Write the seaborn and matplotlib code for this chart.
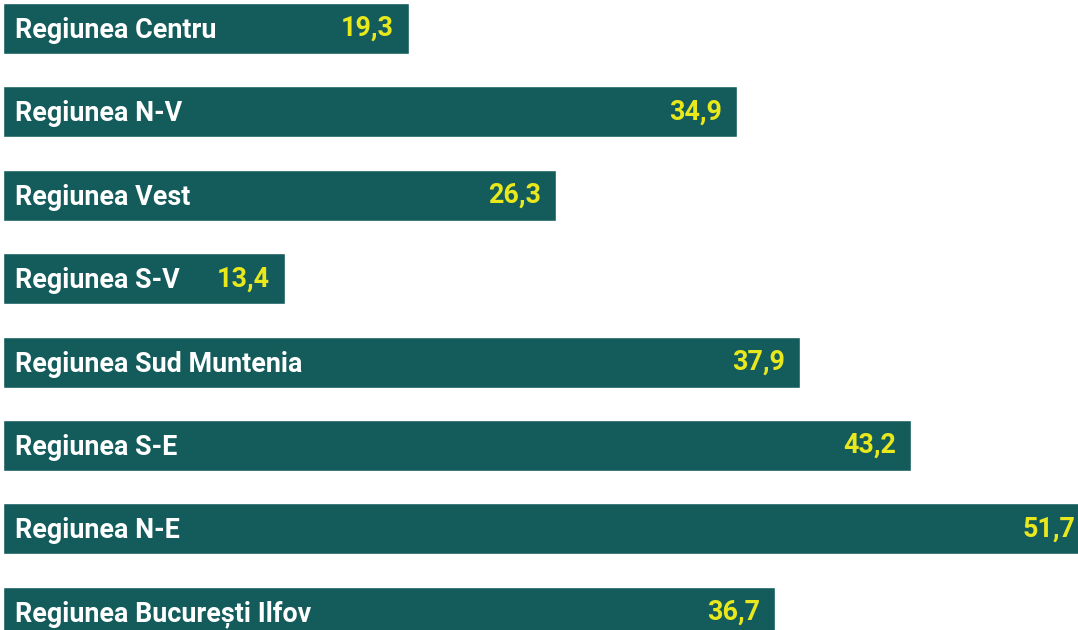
import matplotlib
matplotlib.use("Agg")
import matplotlib.pyplot as plt
import seaborn as sns
import pandas as pd

# Data
regions = ["Regiunea Centru", "Regiunea N-V", "Regiunea Vest", "Regiunea S-V",
           "Regiunea Sud Muntenia", "Regiunea S-E", "Regiunea N-E",
           "Regiunea București Ilfov"]
values = [19.3, 34.9, 26.3, 13.4, 37.9, 43.2, 51.7, 36.7]

bar_color = "#145c5c"
value_color = "#e8e81c"

sns.set_theme(style="white")
plt.rcParams["font.family"] = ["Roboto", "DejaVu Sans"]

df = pd.DataFrame({"region": regions, "value": values})

fig = plt.figure(figsize=(10.78, 6.30), dpi=100)
ax = fig.add_axes([0, 0, 1, 1])

sns.barplot(data=df, x="value", y="region", orient="h", color=bar_color,
            width=0.61, saturation=1, ax=ax)

px = 21.03  # pixels per unit
ax.set_xlim(-3 / px, (1078 - 3) / px)
ax.set_ylim(7 + (630 - 612.3) / 83.4, -28.5 / 83.4)
ax.axis("off")

for i, (name, val) in enumerate(zip(regions, values)):
    ax.annotate(name, xy=(0, i), xytext=(12, -2), textcoords="offset pixels",
                ha="left", va="center", color="white", fontsize=19.4,
                fontweight="bold", annotation_clip=False)
    ax.annotate(f"{val:.1f}".replace(".", ","), xy=(val, i), xytext=(-15, 0),
                textcoords="offset pixels", ha="right", va="center",
                color=value_color, fontsize=19.4, fontweight="bold",
                annotation_clip=False)

fig.savefig("out.png", dpi=100)
